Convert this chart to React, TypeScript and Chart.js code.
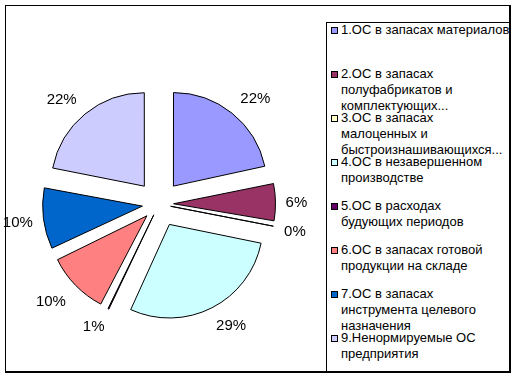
import React, { useEffect, useRef } from "react";
import { Chart, registerables } from "chart.js";

Chart.register(...registerables);

const legendLines: string[][] = [
  ["1.ОС в запасах материалов"],
  ["2.ОС в запасах", "полуфабрикатов и", "комплектующих..."],
  ["3.ОС в запасах", "малоценных и", "быстроизнашивающихся..."],
  ["4.ОС в незавершенном", "производстве"],
  ["5.ОС в расходах", "будующих периодов"],
  ["6.ОС в запасах готовой", "продукции на складе"],
  ["7.ОС в запасах", "инструмента целевого", "назначения"],
  ["9.Ненормируемые ОС", "предприятия"],
];
const categories: string[] = legendLines.map((l) => l.join(" "));
const shares: number[] = [21.6, 6.3, 0.3, 28.6, 0.7, 10.4, 10.2, 21.9];
const sliceColors: string[] = [
  "#9999FF",
  "#993366",
  "#FFFFCC",
  "#CCFFFF",
  "#660066",
  "#FF8080",
  "#0066CC",
  "#CCCCFF",
];

const FONT = "'Liberation Sans', Arial, sans-serif";
const EXPLODE = 23.5; // desired pixel explosion of each slice

// Chart.js translates an arc by offset/4 * (1 + fix); invert that so every slice moves EXPLODE px
function fixFor(circ: number) {
  return 1 - Math.sin(Math.min(Math.PI, circ || 0));
}

const labelPlugin = {
  id: "pctLabels",
  afterDatasetsDraw(chart: any) {
    const ctx = chart.ctx;
    const meta = chart.getDatasetMeta(0);
    const data = chart.data.datasets[0].data as number[];
    const total = data.reduce((a, b) => a + b, 0);
    ctx.save();
    ctx.font = `15px ${FONT}`;
    ctx.fillStyle = "#000";
    ctx.textAlign = "center";
    ctx.textBaseline = "alphabetic";
    meta.data.forEach((arc: any, i: number) => {
      const { x, y, startAngle, endAngle, outerRadius, circumference } = arc.getProps(
        ["x", "y", "startAngle", "endAngle", "outerRadius", "circumference"],
        true
      );
      const off = ((arc.options.offset || 0) / 4) * (1 + fixFor(circumference));
      const mid = (startAngle + endAngle) / 2;
      const c = Math.cos(mid);
      const s = Math.sin(mid);
      const txt = Math.round((data[i] / total) * 100) + "%";
      const w = ctx.measureText(txt).width;
      const h = 11;
      const diag = Math.min(Math.abs(c), Math.abs(s)) / Math.SQRT1_2;
      const r = outerRadius + off + 10 + 3.5 * diag;
      const a = Math.sign(c) * Math.min(1, Math.abs(c) * 2);
      const b = Math.sign(s) * Math.min(1, Math.abs(s) * 2);
      const cx = x + r * c + (w / 2) * a;
      const cy = y + r * s + (h / 2) * b;
      ctx.fillText(txt, cx, cy + 5.4);
    });
    ctx.restore();
  },
};

export default function App() {
  const ref = useRef<HTMLCanvasElement | null>(null);
  useEffect(() => {
    if (!ref.current) return;
    const total = shares.reduce((a, b) => a + b, 0);
    const chart = new Chart(ref.current, {
      type: "pie",
      data: {
        labels: categories,
        datasets: [
          {
            data: shares,
            backgroundColor: sliceColors,
            borderColor: "#000",
            borderWidth: 1,
            offset: (c: any) => {
              const v = shares[c.dataIndex] ?? 0;
              const circ = (2 * Math.PI * v) / total;
              return (EXPLODE * 4) / (1 + fixFor(circ));
            },
            hoverOffset: 0,
          },
        ],
      },
      options: {
        responsive: false,
        animation: false,
        events: [],
        radius: 93,
        layout: { padding: { left: 39, right: 237, top: 84, bottom: 54 } },
        plugins: {
          legend: { display: false },
          tooltip: { enabled: false },
        },
      } as any,
      plugins: [labelPlugin],
    });
    return () => chart.destroy();
  }, []);

  return (
    <div
      style={{
        position: "absolute",
        left: 0,
        top: 0,
        width: 516,
        height: 378,
        background: "#fff",
        fontFamily: FONT,
      }}
    >
      <div
        style={{
          position: "absolute",
          left: 5,
          top: 5,
          width: 506,
          height: 368,
          boxSizing: "border-box",
          borderLeft: "1px solid #000",
          borderTop: "1px solid #000",
          borderRight: "2px solid #000",
          borderBottom: "2px solid #000",
        }}
      />
      <div
        style={{
          position: "absolute",
          left: 326,
          top: 22,
          width: 185,
          height: 351,
          boxSizing: "border-box",
          borderLeft: "1px solid #000",
          borderTop: "1px solid #000",
        }}
      />
      {legendLines.map((lines, i) => {
        const cy = 30 + i * 44;
        return (
          <React.Fragment key={i}>
            <div
              style={{
                position: "absolute",
                left: 331,
                top: cy - 3,
                width: 7,
                height: 7,
                boxSizing: "border-box",
                border: "1px solid #000",
                background: sliceColors[i],
              }}
            />
            {lines.map((t, j) => (
              <div
                key={j}
                style={{
                  position: "absolute",
                  left: 341,
                  top: cy + j * 16 - 8,
                  height: 16,
                  lineHeight: "16px",
                  fontSize: 13,
                  color: "#000",
                  whiteSpace: "nowrap",
                }}
              >
                {t}
              </div>
            ))}
          </React.Fragment>
        );
      })}
      <canvas
        ref={ref}
        width={516}
        height={378}
        style={{ position: "absolute", left: 0, top: 0, width: 516, height: 378 }}
      />
    </div>
  );
}
